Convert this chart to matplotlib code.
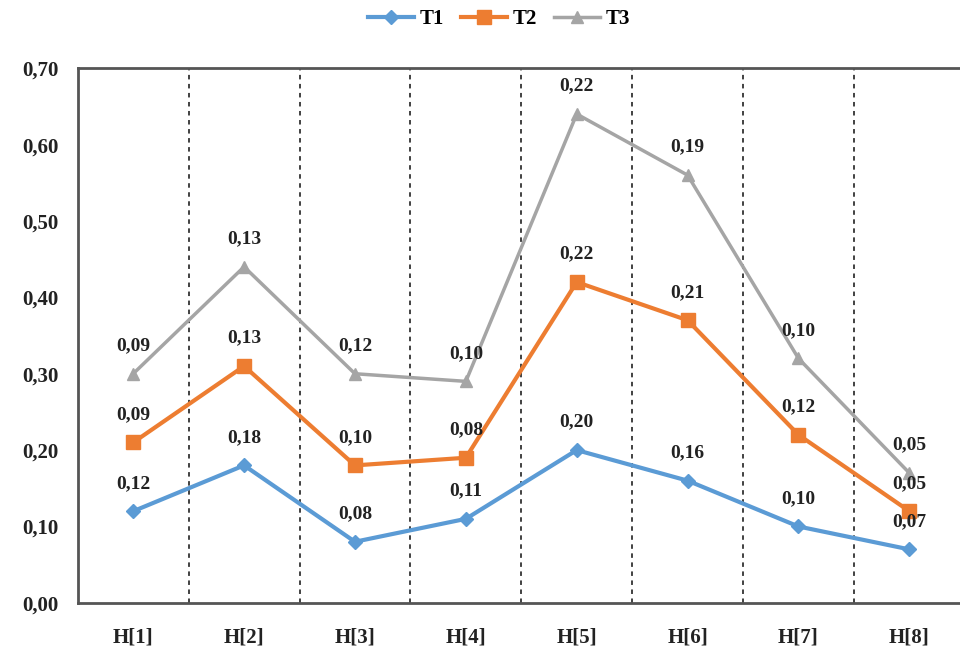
import numpy as np
import matplotlib.pyplot as plt

plt.rcParams['font.family'] = ['Liberation Serif', 'DejaVu Serif']
plt.rcParams['font.weight'] = 'bold'

categories = ['H[1]', 'H[2]', 'H[3]', 'H[4]', 'H[5]', 'H[6]', 'H[7]', 'H[8]']
t1 = [0.12, 0.18, 0.08, 0.11, 0.20, 0.16, 0.10, 0.07]
t2 = [0.09, 0.13, 0.10, 0.08, 0.22, 0.21, 0.12, 0.05]
t3 = [0.09, 0.13, 0.12, 0.10, 0.22, 0.19, 0.10, 0.05]
y_ticks = [0.0, 0.1, 0.2, 0.3, 0.4, 0.5, 0.6, 0.7]

# stacked lines: each series sits on top of the previous ones
s1 = np.array(t1)
s2 = s1 + np.array(t2)
s3 = s2 + np.array(t3)

fig = plt.figure(figsize=(9.6, 6.56), dpi=100)
ax = fig.add_axes([0.081, 0.081, 0.924, 0.815])

x = np.arange(len(categories))

series = [
    ('T1', t1, s1, '#5B9BD5', 'D', 7, 3.0),
    ('T2', t2, s2, '#ED7D31', 's', 10, 3.0),
    ('T3', t3, s3, '#A5A5A5', '^', 9, 2.5),
]

for name, vals, ys, col, mk, ms, lw in series:
    ax.plot(x, ys, color=col, marker=mk, markersize=ms, linewidth=lw,
            label=name, zorder=3)
    for xi, yi, v in zip(x, ys, vals):
        ax.annotate(f'{v:.2f}'.replace('.', ','), (xi, yi),
                    xytext=(0, 14), textcoords='offset points',
                    ha='center', va='bottom', fontsize=14, fontweight='bold',
                    color='#222222', zorder=4)

# dashed separators between categories
for b in x[:-1] + 0.5:
    ax.axvline(b, color='#333333', linestyle=(0, (2.5, 2.5)), linewidth=1.3, zorder=1)

ax.set_xlim(-0.5, len(categories) - 0.5)
ax.set_ylim(0, 0.7)
ax.set_yticks(y_ticks)
ax.set_yticklabels([f'{t:.2f}'.replace('.', ',') for t in y_ticks])
ax.set_xticks(x)
ax.set_xticklabels(categories)
ax.tick_params(axis='both', length=0, labelsize=15, colors='#222222')
ax.tick_params(axis='x', pad=18)
ax.tick_params(axis='y', pad=14)
for lbl in ax.get_xticklabels() + ax.get_yticklabels():
    lbl.set_fontweight('bold')

for side in ['left', 'bottom', 'top']:
    ax.spines[side].set_color('#555555')
    ax.spines[side].set_linewidth(2)
ax.spines['right'].set_visible(False)

fig.legend(loc='upper center', bbox_to_anchor=(0.52, 1.015), ncol=3,
           frameon=False, handlelength=2.2, columnspacing=0.8,
           handletextpad=0.3, prop={'weight': 'bold', 'size': 15})

fig.savefig('out.png', dpi=100)
